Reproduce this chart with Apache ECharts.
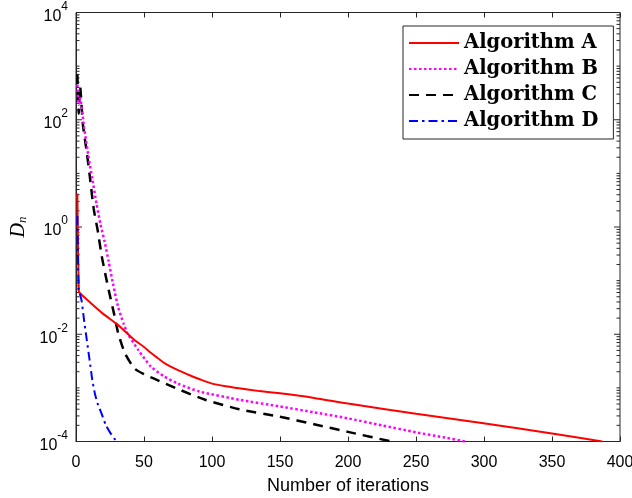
<!DOCTYPE html>
<html>
<head>
<meta charset="utf-8">
<script src="https://cdn.jsdelivr.net/npm/echarts@6/dist/echarts.min.js"></script>
<style>
  html, body { margin: 0; padding: 0; background: #ffffff; }
  #chart { width: 632px; height: 498px; }
</style>
</head>
<body>
<div id="chart"></div>
<script>
// Convergence of the distance D_n versus iteration count for four algorithms.
const seriesNames = ['Algorithm A', 'Algorithm B', 'Algorithm C', 'Algorithm D'];

const iterA = [1, 2, 3, 10, 20, 31, 43, 50, 55, 60, 65, 75, 84, 91, 100, 110, 120, 135, 150, 175, 200, 250, 297, 350, 387];
const valA  = [4.2, 0.065, 0.058, 0.040, 0.024, 0.0148, 0.0078, 0.0058, 0.0045, 0.0036, 0.0029, 0.00214, 0.0017, 0.00145,
               0.0012, 0.00107, 0.00098, 0.00087, 0.00079, 0.00065, 0.00051, 0.00033, 0.000224, 0.000141, 0.0001];

const iterB = [1, 2, 3, 6, 9, 12, 15, 18, 21, 24, 27, 31, 35, 38, 46, 55, 65, 75, 91, 120, 150, 175, 200, 225, 250, 270, 286];
const valB  = [450, 190, 250, 71, 22, 7.9, 2.8, 1.12, 0.54, 0.23, 0.093, 0.032, 0.0158, 0.0102, 0.005, 0.0025,
               0.00162, 0.0012, 0.00085, 0.0006, 0.00045, 0.00035, 0.00027, 0.0002, 0.000148, 0.00012, 0.0001];

const iterC = [1, 2, 3, 5, 8, 10, 13, 16, 19, 22, 25, 28, 31, 36, 43, 50, 57, 75, 95, 120, 150, 175, 200, 232];
const valC  = [700, 130, 420, 85, 24, 9.5, 2.2, 0.85, 0.28, 0.117, 0.052, 0.024, 0.0105, 0.0044, 0.0023, 0.0018,
               0.0015, 0.00095, 0.0006, 0.0004, 0.00029, 0.00021, 0.000151, 0.0001];

const iterD = [1, 2, 4, 6, 8, 10, 12, 14, 16, 19, 22, 25, 28, 30];
const valD  = [1.6, 0.07, 0.044, 0.0178, 0.0076, 0.0033, 0.0014, 0.00076, 0.0005, 0.00032, 0.0002, 0.000148, 0.000115, 0.0001];

const xTickValues = [0, 50, 100, 150, 200, 250, 300, 350, 400];
const yDecadeExponents = [-4, -3, -2, -1, 0, 1, 2, 3, 4];
const yLabelExponents = [-4, -2, 0, 2, 4];

// tick marks on a log axis: every decade plus the 2..9 multiples inside each decade
const yTicks = [];
yDecadeExponents.forEach(function (e) {
  const base = Math.pow(10, e);
  yTicks.push([0, base, yLabelExponents.indexOf(e) >= 0 ? 1 : 0]);
  if (e < 4) {
    for (let m = 2; m <= 9; m++) yTicks.push([0, m * base, 0]);
  }
});

function pairs(xs, ys) { return xs.map(function (x, i) { return [x, ys[i]]; }); }

const axisColor = '#262626';
const chart = echarts.init(document.getElementById('chart'), null, { renderer: 'canvas' });

function lineSeries(name, xs, ys, color, width, dash, z) {
  return {
    name: name, type: 'line', data: pairs(xs, ys), showSymbol: false, symbol: 'none',
    smooth: 0.2,
    lineStyle: { color: color, width: width, type: dash, cap: 'butt' },
    itemStyle: { color: color }, z: z
  };
}

chart.setOption({
  animation: false,
  backgroundColor: '#ffffff',
  grid: { left: 76, right: 12, top: 12.5, bottom: 56.5, show: true, borderColor: axisColor, borderWidth: 1,
          containLabel: false, outerBoundsMode: 'none' },
  legend: {
    data: seriesNames,
    orient: 'vertical',
    left: 403,
    top: 26,
    itemWidth: 50,
    itemHeight: 14,
    itemGap: 6,
    padding: [7, 15, 8, 5],
    backgroundColor: '#ffffff',
    borderColor: '#262626',
    borderWidth: 1,
    borderRadius: 0,
    itemStyle: { opacity: 0 },
    textStyle: { fontFamily: 'DejaVu Serif', fontWeight: 'bold', fontSize: 19.5, color: '#000000' }
  },
  xAxis: [{
    type: 'value', min: 0, max: 400, interval: 50,
    axisLine: { show: true, lineStyle: { color: axisColor, width: 1 } },
    axisTick: { show: true, inside: true, length: 5, lineStyle: { color: axisColor } },
    axisLabel: { show: true, margin: 13, fontFamily: 'Liberation Sans', fontSize: 16, color: '#000000',
                 formatter: function (v) { return xTickValues.indexOf(v) >= 0 ? String(v) : ''; } },
    splitLine: { show: false },
    name: 'Number of iterations', nameLocation: 'middle', nameGap: 36,
    nameTextStyle: { fontFamily: 'Liberation Sans', fontSize: 18, color: '#000000' }
  }, {
    type: 'value', min: 0, max: 400, interval: 50, position: 'top',
    axisLine: { show: false },
    axisTick: { show: true, inside: true, length: 5, lineStyle: { color: axisColor } },
    axisLabel: { show: false },
    splitLine: { show: false }
  }],
  yAxis: {
    type: 'log', logBase: 10, min: 0.0001, max: 10000,
    axisLine: { show: true, lineStyle: { color: axisColor, width: 1 } },
    axisTick: { show: false },
    splitLine: { show: false },
    axisLabel: {
      margin: 8,
      formatter: function (v) {
        const e = Math.round(Math.log10(v));
        return yLabelExponents.indexOf(e) >= 0 ? '{b|10}{s|' + e + '}' : '';
      },
      rich: {
        b: { fontFamily: 'Liberation Sans', fontSize: 16, color: '#000000', verticalAlign: 'bottom', padding: [8, 0, 0, 0] },
        s: { fontFamily: 'Liberation Sans', fontSize: 12, color: '#000000', verticalAlign: 'top', padding: [0, 0, 10, 0] }
      }
    },
    name: '{d|D}{n|n}', nameLocation: 'middle', nameGap: 44, nameRotate: 90,
    nameTextStyle: {
      rich: {
        d: { fontFamily: 'Liberation Serif', fontStyle: 'italic', fontSize: 20, color: '#000000' },
        n: { fontFamily: 'Liberation Serif', fontStyle: 'italic', fontSize: 13, color: '#000000', verticalAlign: 'bottom', padding: [7, 0, 0, 0] }
      }
    }
  },
  series: [
    lineSeries('Algorithm A', iterA, valA, '#ff0000', 2, 'solid', 5),
    lineSeries('Algorithm B', iterB, valB, '#ff00ff', 2.5, [2.5, 2.5], 4),
    lineSeries('Algorithm C', iterC, valC, '#000000', 2.5, [10, 7], 3),
    lineSeries('Algorithm D', iterD, valD, '#0000ff', 2, [9, 4, 2.5, 4], 6),
    {
      name: 'yTicks', type: 'custom', data: yTicks, silent: true, z: 2,
      renderItem: function (params, api) {
        const v = api.value(1);
        const len = api.value(2) ? 6 : 3.5;
        const l = api.coord([0, v]);
        const r = api.coord([400, v]);
        return {
          type: 'group',
          children: [
            { type: 'line', shape: { x1: l[0], y1: l[1], x2: l[0] + len, y2: l[1] }, style: { stroke: axisColor, lineWidth: 1 } },
            { type: 'line', shape: { x1: r[0], y1: r[1], x2: r[0] - len, y2: r[1] }, style: { stroke: axisColor, lineWidth: 1 } }
          ]
        };
      }
    }
  ]
});
</script>
</body>
</html>
